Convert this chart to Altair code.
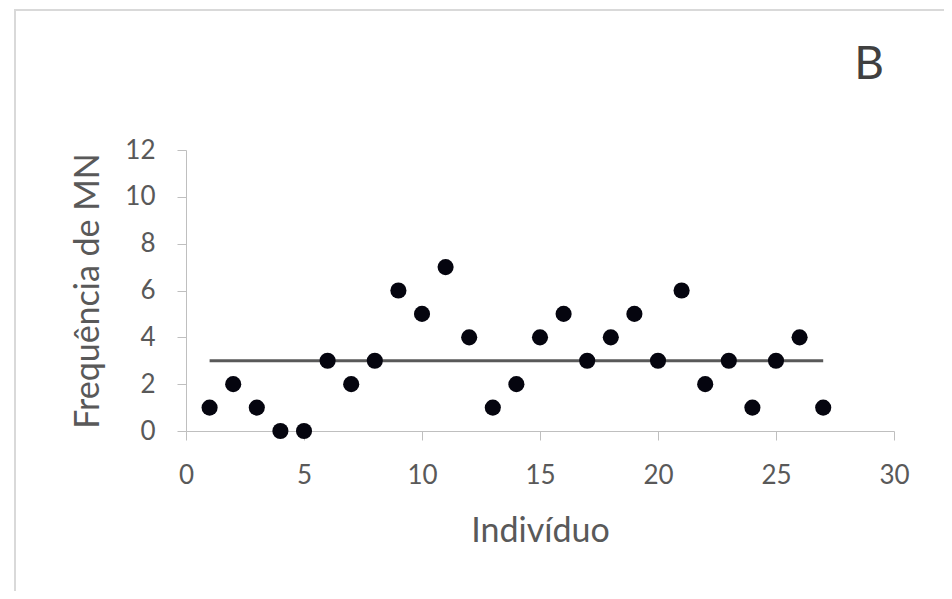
import altair as alt
import pandas as pd

individuo = list(range(1, 28))
frequencia = [1, 2, 1, 0, 0, 3, 2, 3, 6, 5, 7, 4, 1, 2, 4, 5, 3, 4, 5, 3, 6, 2, 3, 1, 3, 4, 1]
media_x = [1, 27]
media_y = [3, 3]
x_ticks = [0, 5, 10, 15, 20, 25, 30]
y_ticks = [0, 2, 4, 6, 8, 10, 12]

pts = pd.DataFrame({"Indivíduo": individuo, "Freq": frequencia})
ln = pd.DataFrame({"Indivíduo": media_x, "Freq": media_y})

FONT = "Lato"
GREY = "#595959"

xs = alt.Scale(domain=[0, 30], nice=False)
ys = alt.Scale(domain=[0, 12], nice=False)

line = alt.Chart(ln).mark_line(color=GREY, strokeWidth=3).encode(
    x=alt.X("Indivíduo:Q", scale=xs,
            axis=alt.Axis(values=x_ticks, title="Indivíduo", grid=False, labelFlush=False,
                          domainColor="#bfbfbf", tickColor="#bfbfbf", tickSize=9,
                          labelFont=FONT, labelFontSize=26, labelColor=GREY, labelPadding=22,
                          titleFont=FONT, titleFontSize=34, titleColor=GREY, titleFontWeight="normal",
                          titlePadding=26)),
    y=alt.Y("Freq:Q", scale=ys,
            axis=alt.Axis(values=y_ticks, title="Frequência de MN", grid=False,
                          domainColor="#bfbfbf", tickColor="#bfbfbf", tickSize=9,
                          labelFont=FONT, labelFontSize=26, labelColor=GREY, labelPadding=22,
                          titleFont=FONT, titleFontSize=34, titleColor=GREY, titleFontWeight="normal",
                          titlePadding=19)),
)

points = alt.Chart(pts).mark_circle(color="#05050f", opacity=1, size=260).encode(
    x=alt.X("Indivíduo:Q", scale=xs),
    y=alt.Y("Freq:Q", scale=ys),
)

frame = alt.Chart(pd.DataFrame({"a": [0]})).mark_rect(
    fill=None, stroke="#d9d9d9", strokeWidth=2
).encode(
    x=alt.value(-171), x2=alt.value(759), y=alt.value(-140), y2=alt.value(442)
)

label_b = alt.Chart(pd.DataFrame({"t": ["B"]})).mark_text(
    font=FONT, fontSize=46, color="#404040", align="center", baseline="middle"
).encode(text="t:N", x=alt.value(683), y=alt.value(-85))

chart = alt.layer(frame, line, points, label_b).properties(
    width=708, height=281,
    autosize=alt.AutoSizeParams(type="none"),
    padding={"left": 178, "top": 142, "right": 50, "bottom": 160},
    background="white",
).configure_view(stroke=None)

chart.save("out.html", embed_options={"renderer": "svg", "actions": False})
